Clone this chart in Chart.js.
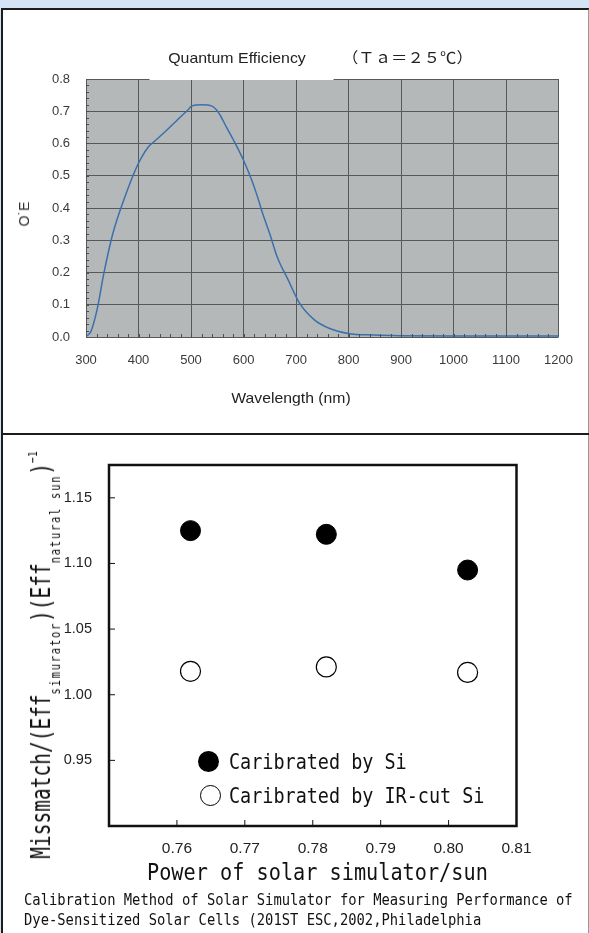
<!DOCTYPE html>
<html>
<head>
<meta charset="utf-8">
<script src="https://cdn.jsdelivr.net/npm/chart.js@4.4.0/dist/chart.umd.min.js"></script>
<style>
  body { margin: 0; width: 589px; height: 933px; background: #d5e3f7; position: relative; overflow: hidden;
         font-family: "Liberation Sans", Arial, sans-serif; }
  #frame { position: absolute; left: 1px; top: 8px; width: 585px; height: 930px; background: #fff;
           border: 2px solid #1c1c1c; border-right-color: #9a9a9a; }
  #divider { position: absolute; left: 1px; top: 433px; width: 588px; height: 2px; background: #1c1c1c; }
  canvas { position: absolute; left: 0; }
  #qeChart { top: 0; }
  #mmChart { top: 434px; }
  .t { position: absolute; white-space: nowrap; color: #222; }
  .g { font-family: "DejaVu Sans Mono", monospace; transform-origin: 0 0; color: #111; }
  .dot { position: absolute; width: 21px; height: 21px; border-radius: 50%; box-sizing: border-box; }
  .sub { font-size: 14px; letter-spacing: 2.3px; vertical-align: -10px; line-height: 0; }
</style>
</head>
<body>
<div id="frame"></div>
<div id="divider"></div>
<canvas id="qeChart" width="589" height="433"></canvas>
<canvas id="mmChart" width="589" height="499"></canvas>

<div class="t" style="left:237px;top:57px;transform:translate(-50%,-50%) scaleX(1.06);font-size:15px;">Quantum Efficiency</div>
<div class="t" style="left:342px;top:57px;transform-origin:0 50%;transform:translateY(-50%) scaleX(1.09);font-family:'Noto Sans CJK JP';font-size:15px;line-height:18px;">（Ｔａ＝２５℃）</div>
<div class="t" style="left:24px;top:214px;transform:translate(-50%,-50%) rotate(-90deg);font-size:14px;color:#333;">O˙E</div>
<div class="t" style="left:291px;top:397px;transform:translate(-50%,-50%) scaleX(1.05);font-size:15px;">Wavelength (nm)</div>

<div class="t g" style="left:40.5px;top:655px;height:26px;font-size:26px;line-height:26px;transform-origin:50% 50%;transform:translate(-50%,-50%) rotate(-90deg) scaleX(0.75);">Missmatch/(Eff<span class="sub">simurator</span>)(Eff<span class="sub">natural sun</span>)<span style="font-size:13px;vertical-align:13px;line-height:0;">−1</span></div>

<div class="dot" style="left:198px;top:750.5px;background:#000;"></div>
<div class="dot" style="left:200px;top:784.5px;background:#fff;border:1.3px solid #000;"></div>
<div class="t g" style="left:229px;top:752px;font-size:20.5px;line-height:20.5px;transform:scaleX(0.9);">Caribrated by Si</div>
<div class="t g" style="left:229px;top:786px;font-size:20.5px;line-height:20.5px;transform:scaleX(0.9);">Caribrated by IR-cut Si</div>
<div class="t g" style="left:146.5px;top:861px;font-size:23px;line-height:23px;transform:scaleX(0.879);">Power of solar simulator/sun</div>
<div class="t g" style="left:24px;top:892px;font-size:16px;line-height:16px;transform:scaleX(0.863);">Calibration Method of Solar Simulator for Measuring Performance of</div>
<div class="t g" style="left:24px;top:912px;font-size:16px;line-height:16px;transform:scaleX(0.863);">Dye-Sensitized Solar Cells (201ST ESC,2002,Philadelphia</div>

<script>
// top chart: quantum efficiency vs wavelength
const wavelength = [300, 309, 321, 334, 351, 372, 394, 405, 419, 430, 451, 472, 494, 501, 520, 540, 552,
  568, 585, 600, 615, 627, 636, 650, 664, 685, 707, 735, 763, 799, 849, 900, 1000, 1100, 1200];
const quantumEff = [0.002, 0.016, 0.084, 0.197, 0.32, 0.425, 0.518, 0.555, 0.59, 0.606, 0.637, 0.67, 0.704, 0.716, 0.72, 0.716, 0.697,
  0.649, 0.598, 0.548, 0.489, 0.433, 0.385, 0.32, 0.249, 0.177, 0.104, 0.053, 0.027, 0.011, 0.006, 0.004, 0.003, 0.003, 0.003];
const wlTicks = [300, 400, 500, 600, 700, 800, 900, 1000, 1100, 1200];
const qeTicks = [0, 0.1, 0.2, 0.3, 0.4, 0.5, 0.6, 0.7, 0.8];

// bottom chart: mismatch vs simulator power
const powerRatio = [0.762, 0.782, 0.8028];
const mismatchSi = [1.125, 1.1222, 1.095];
const mismatchIrCut = [1.0178, 1.0212, 1.017];
const powerTicks = [0.76, 0.77, 0.78, 0.79, 0.80, 0.81];
const mismatchTicks = [0.95, 1.00, 1.05, 1.10, 1.15];

const grayPlot = {
  id: 'grayPlot',
  beforeDraw(chart) {
    const { ctx, chartArea: a } = chart;
    ctx.save();
    ctx.fillStyle = '#b4b8b8';
    ctx.fillRect(a.left, a.top, a.right - a.left, a.bottom - a.top);
    ctx.restore();
  },
  afterDraw(chart) {
    const { ctx, chartArea: a, scales: { x, y } } = chart;
    ctx.save();
    // small minor ticks along the left and bottom edges
    ctx.strokeStyle = '#4a4e4e';
    ctx.lineWidth = 1;
    ctx.beginPath();
    for (let v = 0.02; v < 0.8; v += 0.02) {
      const py = Math.round(y.getPixelForValue(v)) + 0.5;
      ctx.moveTo(a.left, py); ctx.lineTo(a.left + 3, py);
    }
    for (let w = 320; w < 1200; w += 20) {
      const px = Math.round(x.getPixelForValue(w)) + 0.5;
      ctx.moveTo(px, a.bottom); ctx.lineTo(px, a.bottom - 3);
    }
    ctx.stroke();
    // white title backing that hides part of the top border
    ctx.fillStyle = '#fff';
    ctx.fillRect(149.5, a.top - 3, 184, 4);
    ctx.restore();
  }
};

new Chart(document.getElementById('qeChart'), {
  type: 'line',
  data: {
    datasets: [{
      data: wavelength.map((w, i) => ({ x: w, y: quantumEff[i] })),
      borderColor: '#3b6fae',
      borderWidth: 1.5,
      pointRadius: 0,
      cubicInterpolationMode: 'monotone',
      fill: false
    }]
  },
  options: {
    responsive: false,
    animation: false,
    layout: { padding: { left: 0, right: 28, top: 79, bottom: 0 } },
    plugins: { legend: { display: false }, tooltip: { enabled: false } },
    scales: {
      x: {
        type: 'linear', min: 300, max: 1200,
        afterFit: s => { s.height = 96; },
        afterBuildTicks: s => { s.ticks = wlTicks.map(v => ({ value: v })); },
        ticks: { padding: 16, color: '#3a3a3a', font: { size: 13 }, callback: v => String(v) },
        grid: { color: '#555959', drawTicks: false },
        border: { display: false }
      },
      y: {
        min: 0, max: 0.8,
        afterFit: s => { s.width = 86; },
        afterBuildTicks: s => { s.ticks = qeTicks.map(v => ({ value: v })); },
        ticks: { padding: 16, color: '#3a3a3a', font: { size: 13 }, callback: v => v.toFixed(1) },
        grid: { color: '#555959', drawTicks: false },
        border: { display: false }
      }
    }
  },
  plugins: [grayPlot]
});

const boxFrame = {
  id: 'boxFrame',
  afterDraw(chart) {
    const { ctx, chartArea: a, scales: { x, y } } = chart;
    ctx.save();
    ctx.strokeStyle = '#111';
    ctx.lineWidth = 1;
    ctx.beginPath();
    powerTicks.forEach(v => { const px = x.getPixelForValue(v); ctx.moveTo(px, a.bottom); ctx.lineTo(px, a.bottom - 6); });
    mismatchTicks.forEach(v => { const py = y.getPixelForValue(v); ctx.moveTo(a.left, py); ctx.lineTo(a.left + 6, py); });
    ctx.stroke();
    ctx.lineWidth = 2.5;
    ctx.strokeRect(a.left, a.top, a.right - a.left, a.bottom - a.top);
    ctx.restore();
  }
};

new Chart(document.getElementById('mmChart'), {
  type: 'scatter',
  data: {
    datasets: [{
      label: 'Caribrated by Si',
      data: powerRatio.map((p, i) => ({ x: p, y: mismatchSi[i] })),
      backgroundColor: '#000', borderColor: '#000', pointRadius: 10, borderWidth: 1
    }, {
      label: 'Caribrated by IR-cut Si',
      data: powerRatio.map((p, i) => ({ x: p, y: mismatchIrCut[i] })),
      backgroundColor: '#fff', borderColor: '#000', pointRadius: 10, borderWidth: 1.2
    }]
  },
  options: {
    responsive: false,
    animation: false,
    layout: { padding: { left: 0, right: 72.5, top: 31, bottom: 0 } },
    plugins: { legend: { display: false }, tooltip: { enabled: false } },
    scales: {
      x: {
        type: 'linear', min: 0.75, max: 0.81,
        afterFit: s => { s.height = 107; },
        afterBuildTicks: s => { s.ticks = powerTicks.map(v => ({ value: v })); },
        ticks: { padding: 13, color: '#222', font: { size: 15.5 }, callback: v => v.toFixed(2) },
        grid: { display: false, drawTicks: false },
        border: { display: false }
      },
      y: {
        min: 0.90, max: 1.175,
        afterFit: s => { s.width = 109; },
        afterBuildTicks: s => { s.ticks = mismatchTicks.map(v => ({ value: v })); },
        ticks: { padding: 17, color: '#222', font: { size: 14.5 }, callback: v => v.toFixed(2) },
        grid: { display: false, drawTicks: false },
        border: { display: false }
      }
    }
  },
  plugins: [boxFrame]
});
</script>
</body>
</html>
